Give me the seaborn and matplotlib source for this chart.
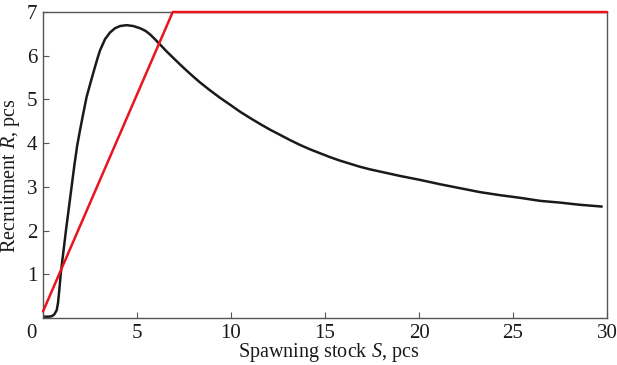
import numpy as np
import pandas as pd
import matplotlib
matplotlib.use("Agg")
import matplotlib.pyplot as plt
import matplotlib.transforms as mtransforms
import seaborn as sns

# stock-recruitment curve (black)
stock_s = [0, 0.3, 0.46, 0.6, 0.73, 0.8, 0.87, 0.94, 1.08, 1.22, 1.37, 1.52,
           1.67, 1.82, 1.97, 2.11, 2.32, 2.59, 2.89, 3.03,
           3.3, 3.56, 3.83, 4.10, 4.45, 4.8, 5.16, 5.45, 5.69, 5.95, 6.22,
           6.55, 6.93, 7.29, 7.64, 8.0, 8.35, 8.88, 9.41, 9.95, 10.48, 11.0,
           11.54, 12.07, 12.61, 13.14, 13.67, 14.2, 14.73, 15.27, 15.80, 16.33,
           16.86, 17.4, 17.93, 18.46, 18.99, 20.05, 21.12, 22.18, 23.24, 24.31,
           25.37, 26.44, 27.5, 28.56, 29.72]
recruit_r = [0.03, 0.03, 0.04, 0.08, 0.18, 0.35, 0.65, 1.0, 1.5, 2.0, 2.5, 3.0,
             3.5, 3.95, 4.3, 4.61, 5.06, 5.48, 5.93, 6.12,
             6.38, 6.53, 6.63, 6.68, 6.70, 6.68, 6.63, 6.57, 6.49, 6.38, 6.26,
             6.11, 5.95, 5.80, 5.66, 5.52, 5.39, 5.21, 5.04, 4.88, 4.72, 4.58,
             4.44, 4.31, 4.19, 4.07, 3.96, 3.86, 3.77, 3.68, 3.60, 3.53,
             3.46, 3.40, 3.35, 3.30, 3.25, 3.16, 3.06, 2.97, 2.88, 2.81,
             2.75, 2.68, 2.64, 2.59, 2.55]

# hockey-stick line (red)
hs_s = [0, 6.9, 30]
hs_r = [0.15, 7.0, 7.0]

x_ticks = [0, 5, 10, 15, 20, 25, 30]
y_ticks = [1, 2, 3, 4, 5, 6, 7]

sns.set_theme(style="ticks")
plt.rcParams['font.family'] = ['Liberation Serif', 'DejaVu Serif']
plt.rcParams['mathtext.fontset'] = 'custom'
plt.rcParams['mathtext.rm'] = 'Liberation Serif'
plt.rcParams['mathtext.it'] = 'Liberation Serif:italic'

fig = plt.figure(figsize=(6.17, 3.65), dpi=100)
ax = fig.add_axes([0.0697, 0.1288, 0.9141, 0.8382])

curve = pd.DataFrame({'S': stock_s, 'R': recruit_r})
hockey = pd.DataFrame({'S': hs_s, 'R': hs_r})

sns.lineplot(data=curve, x='S', y='R', ax=ax, color='#1a1a1a', lw=1.8,
             estimator=None, sort=False, solid_joinstyle='round')
sns.lineplot(data=hockey, x='S', y='R', ax=ax, color='#e8141e', lw=1.8,
             estimator=None, sort=False, clip_on=False, zorder=5)

ax.set_xlim(0, 30)
ax.set_ylim(0, 7)
ax.set_xticks(x_ticks)
ax.set_yticks(y_ticks)
ax.tick_params(direction='in', length=4, width=0.8, color='#555555',
               labelsize=15, pad=4, labelcolor='#1a1a1a')
# shared origin label sits a bit left of the corner
off = mtransforms.ScaledTranslation(-8 / 72, 0, fig.dpi_scale_trans)
lbl0 = ax.get_xticklabels()[0]
lbl0.set_transform(lbl0.get_transform() + off)

for sp in ax.spines.values():
    sp.set_color('#555555')
    sp.set_linewidth(1.0)

ax.set_xlabel('Spawning stock $S$, pcs', fontsize=14.5, color='#1a1a1a')
ax.set_ylabel('Recruitment $R$, pcs', fontsize=14.5, color='#1a1a1a')
ax.xaxis.set_label_coords(0.507, -0.076)
ax.yaxis.set_label_coords(-0.037, 0.465)

fig.savefig('out.png', dpi=100)
